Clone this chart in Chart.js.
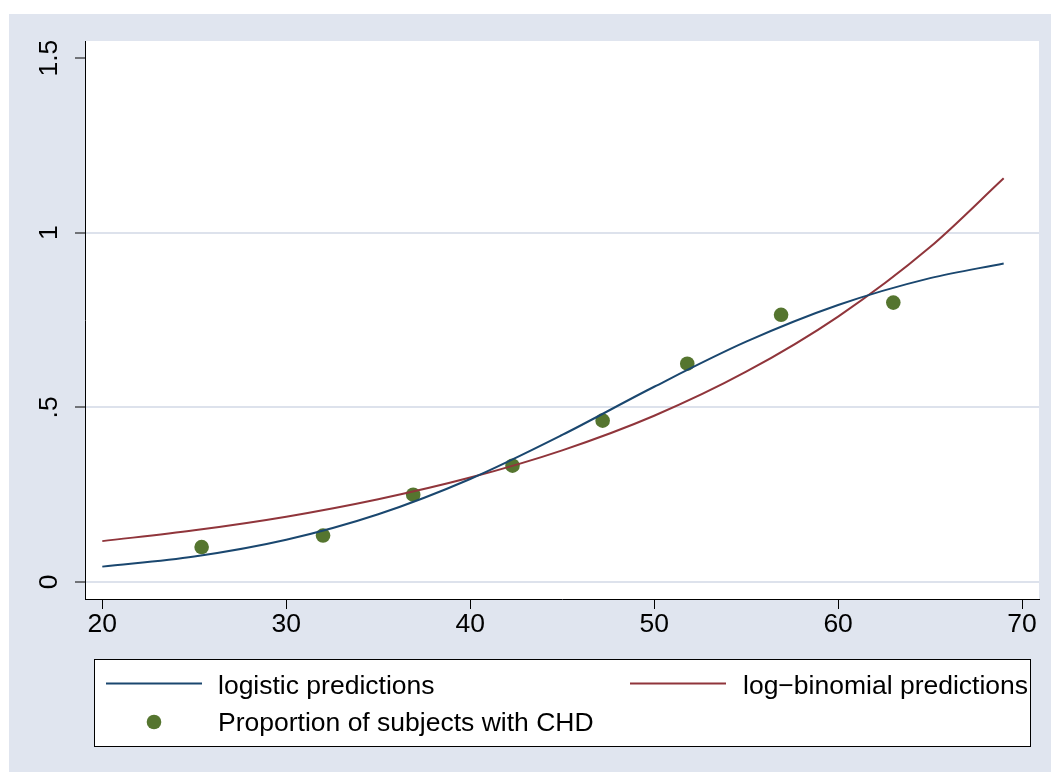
<!DOCTYPE html>
<html><head><meta charset="utf-8">
<script src="https://cdn.jsdelivr.net/npm/chart.js@4/dist/chart.umd.min.js"></script>
<style>
html,body{margin:0;padding:0;background:#fff;width:1051px;height:772px;overflow:hidden}
#wrap{position:absolute;left:9px;top:14px;width:1042px;height:758px}
</style>
</head><body>
<div id="wrap"><canvas id="c" width="1042" height="758"></canvas></div>
<script>
// ---- data ----
const predAges = [20, 25, 30, 35, 40, 45, 50, 55, 60, 65, 69];
const logisticPred = [0.044, 0.073, 0.121, 0.194, 0.295, 0.421, 0.559, 0.688, 0.793, 0.870, 0.912];
const logBinomialPred = [0.117, 0.148, 0.187, 0.237, 0.299, 0.377, 0.476, 0.602, 0.760, 0.959, 1.156];
const obsAges = [25.4, 32.0, 36.9, 42.3, 47.2, 51.8, 56.9, 63.0];
const obsProp = [0.100, 0.133, 0.250, 0.333, 0.462, 0.625, 0.765, 0.800];
const xTicks = [20, 30, 40, 50, 60, 70];
const yTicks = [0, 0.5, 1, 1.5];
const yTickLabels = ['0', '.5', '1', '1.5'];
const seriesLabels = ['logistic predictions', 'log\u2212binomial predictions', 'Proportion of subjects with CHD'];

const BG = '#e0e5ef';
const GRID = '#dde2ec';
const NAVY = '#1a476f';
const MAROON = '#90353b';
const GREEN = '#55752f';
const FONT = '"Liberation Sans", Arial, Helvetica, sans-serif';
const FSIZE = 26.5;

const toXY = (xs, ys) => xs.map((x, i) => ({x: x, y: ys[i]}));

const bgPlugin = {
  id: 'bg',
  beforeDraw(chart) {
    const {ctx, chartArea: a} = chart;
    ctx.save();
    ctx.fillStyle = BG;
    ctx.fillRect(0, 0, chart.width, chart.height);
    ctx.fillStyle = '#ffffff';
    ctx.fillRect(a.left, a.top, a.right - a.left, a.bottom - a.top);
    ctx.restore();
  }
};

const yLabelPlugin = {
  id: 'yLabels',
  afterDraw(chart) {
    const {ctx} = chart;
    const ys = chart.scales.y;
    ctx.save();
    ctx.fillStyle = '#000';
    ctx.font = FSIZE + 'px ' + FONT;
    ctx.textAlign = 'center';
    ctx.textBaseline = 'middle';
    yTicks.forEach((v, i) => {
      const py = ys.getPixelForValue(v);
      ctx.save();
      ctx.translate(ys.left + 41, py);
      ctx.rotate(-Math.PI / 2);
      ctx.fillText(yTickLabels[i], 0, 0);
      ctx.restore();
    });
    ctx.restore();
  }
};

const legendPlugin = {
  id: 'boxLegend',
  afterDraw(chart) {
    const {ctx} = chart;
    const ds = chart.data.datasets;
    const bx = 85.5, by = 645.5, bw = 936, bh = 87;
    ctx.save();
    ctx.fillStyle = '#fff';
    ctx.fillRect(bx, by, bw, bh);
    ctx.strokeStyle = '#000';
    ctx.lineWidth = 1;
    ctx.strokeRect(bx, by, bw, bh);
    ctx.font = FSIZE + 'px ' + FONT;
    ctx.fillStyle = '#000';
    ctx.textAlign = 'left';
    ctx.textBaseline = 'alphabetic';
    // row 1, col 1
    ctx.strokeStyle = ds[0].borderColor; ctx.lineWidth = 2;
    ctx.beginPath(); ctx.moveTo(97, 669.5); ctx.lineTo(193, 669.5); ctx.stroke();
    ctx.fillText(ds[0].label, 209, 680);
    // row 1, col 2
    ctx.strokeStyle = ds[1].borderColor;
    ctx.beginPath(); ctx.moveTo(621, 669.5); ctx.lineTo(717, 669.5); ctx.stroke();
    ctx.fillText(ds[1].label, 734, 680);
    // row 2
    ctx.fillStyle = ds[2].backgroundColor;
    ctx.beginPath(); ctx.arc(145, 708, 7.3, 0, Math.PI * 2); ctx.fill();
    ctx.fillStyle = '#000';
    ctx.fillText(ds[2].label, 209, 717);
    ctx.restore();
  }
};

new Chart(document.getElementById('c'), {
  type: 'scatter',
  data: {
    datasets: [
      {
        type: 'line', label: seriesLabels[0], data: toXY(predAges, logisticPred),
        borderColor: NAVY, backgroundColor: NAVY, borderWidth: 2, pointRadius: 0,
        cubicInterpolationMode: 'monotone', fill: false
      },
      {
        type: 'line', label: seriesLabels[1], data: toXY(predAges, logBinomialPred),
        borderColor: MAROON, backgroundColor: MAROON, borderWidth: 2, pointRadius: 0,
        cubicInterpolationMode: 'monotone', fill: false
      },
      {
        type: 'scatter', label: seriesLabels[2], data: toXY(obsAges, obsProp),
        borderColor: GREEN, backgroundColor: GREEN, pointRadius: 7.3, borderWidth: 0
      }
    ]
  },
  options: {
    responsive: false,
    devicePixelRatio: 1,
    animation: false,
    layout: {padding: {top: 27, right: 12, left: 0, bottom: 0}},
    plugins: {legend: {display: false}, tooltip: {enabled: false}, title: {display: false}},
    scales: {
      x: {
        type: 'linear', min: 19.06, max: 70.92,
        afterBuildTicks: (s) => { s.ticks = xTicks.map(v => ({value: v})); },
        afterFit: (s) => { s.height = 173; },
        border: {display: true, color: '#000', width: 1},
        grid: {drawOnChartArea: false, drawTicks: true, tickLength: 10, tickColor: '#000', tickWidth: 1},
        ticks: {color: '#000', font: {family: FONT, size: FSIZE}, padding: 0, maxRotation: 0, minRotation: 0,
                callback: (v) => String(v)}
      },
      y: {
        type: 'linear', min: -0.0487, max: 1.549,
        afterBuildTicks: (s) => { s.ticks = yTicks.map(v => ({value: v})); },
        afterFit: (s) => { s.width = 76; },
        border: {display: true, color: '#000', width: 1},
        grid: {
          drawOnChartArea: true, drawTicks: true, tickLength: 10, tickColor: '#000', tickWidth: 1,
          color: (c) => (c.tick && c.tick.value === 1.5) ? 'rgba(0,0,0,0)' : GRID,
          lineWidth: 2
        },
        ticks: {display: false}
      }
    }
  },
  plugins: [bgPlugin, yLabelPlugin, legendPlugin]
});
</script>
</body></html>
